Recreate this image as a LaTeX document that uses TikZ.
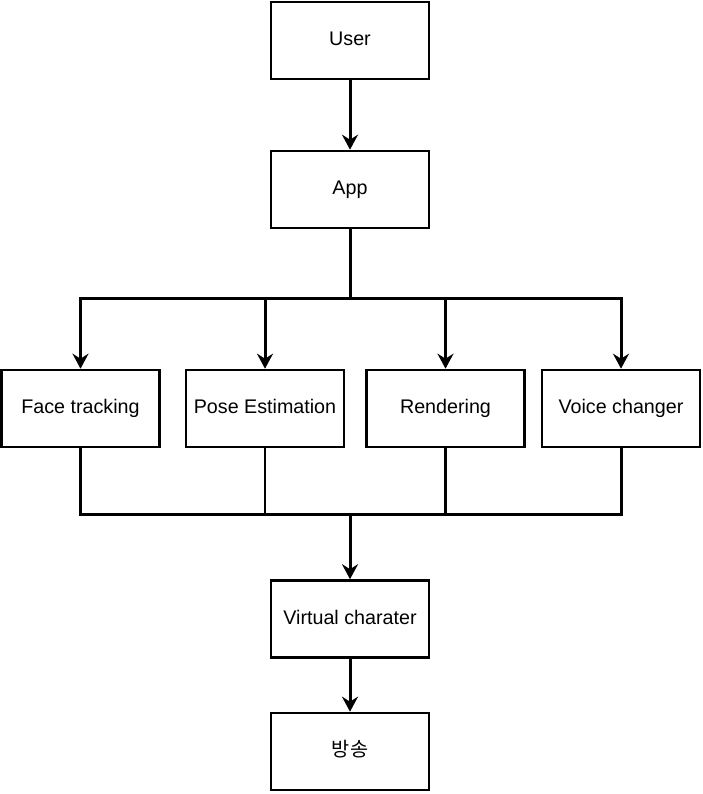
\documentclass[tikz,border=0pt]{standalone}
\usepackage{fontspec}
\setmainfont{Liberation Sans}
\newfontfamily\krfont{Noto Sans CJK KR}
\usetikzlibrary{arrows.meta}
\begin{document}
\begin{tikzpicture}[x=1pt,y=-1pt,
  boxnode/.style={draw=black,line width=2.6pt,rectangle,minimum width=158pt,minimum height=77pt,inner sep=0pt,text height=14pt,text depth=4pt,font=\fontsize{19.7}{23}\selectfont,fill=white},
  arrowline/.style={line width=3pt,-{Stealth[length=15pt,width=16pt,inset=5pt]}},
  busline/.style={line width=3pt},
  thinline/.style={line width=2.4pt}]
\useasboundingbox (0,0) rectangle (703,794);
\node[boxnode] (user) at (350,40.5) {User};
\node[boxnode] (app) at (350,189.5) {App};
\node[boxnode] (face) at (80.5,408.5) {Face tracking};
\node[boxnode] (pose) at (265,408.5) {Pose Estimation};
\node[boxnode] (rend) at (445.5,408.5) {Rendering};
\node[boxnode] (voice) at (621,408.5) {Voice changer};
\node[boxnode] (virt) at (350,619) {Virtual charater};
\node[boxnode] (cast) at (350,751.5) {\krfont 방송};
\coordinate (bus1) at (350,298);
\coordinate (bus2) at (350,514);
\draw[arrowline] (user.south) -- (app.north);
\draw[busline] (app.south) -- (bus1);
\draw[busline,line cap=rect] (bus1 -| face.north) -- (bus1 -| voice.north);
\draw[arrowline] (bus1 -| face.north) -- (face.north);
\draw[arrowline] (bus1 -| pose.north) -- (pose.north);
\draw[arrowline] (bus1 -| rend.north) -- (rend.north);
\draw[arrowline] (bus1 -| voice.north) -- (voice.north);
\draw[thinline] (pose.south) -- (bus2 -| pose.south);
\draw[thinline] (rend.south) -- (bus2 -| rend.south);
\draw[busline] (face.south) |- (bus2) -| (voice.south);
\draw[arrowline] (bus2) -- (virt.north);
\draw[arrowline] (virt.south) -- (cast.north);
\end{tikzpicture}
\end{document}
